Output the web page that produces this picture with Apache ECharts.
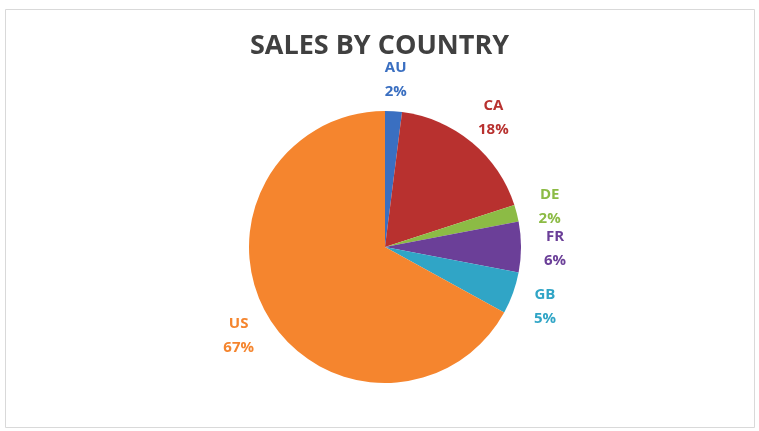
<!DOCTYPE html>
<html>
<head>
<meta charset="utf-8">
<script src="https://cdn.jsdelivr.net/npm/echarts@6/dist/echarts.min.js"></script>
<style>html,body{margin:0;padding:0;background:#fff}#c{width:759px;height:431px}</style>
</head>
<body>
<div id="c"></div>
<script>
const categories = ['AU', 'CA', 'DE', 'FR', 'GB', 'US'];
const values = [2, 18, 2, 6, 5, 67];
const colors = ['#3a6fc1', '#b8312f', '#8cbb45', '#6b3f98', '#30a5c6', '#f5852e'];
const titleText = 'SALES BY COUNTRY';

const CX = 385, CY = 247, R = 136, LABEL_R = 170;
const total = values.reduce((a, b) => a + b, 0);
const mids = [];
let acc = 0;
values.forEach(v => { mids.push((acc + v / 2) / total * 2 * Math.PI); acc += v; });

const chart = echarts.init(document.getElementById('c'));
chart.setOption({
  animation: false,
  backgroundColor: '#fff',
  title: {
    text: titleText, left: 'center', top: 28,
    textStyle: { fontFamily: 'Open Sans', fontWeight: 'bold', fontSize: 27, color: '#404040' }
  },
  graphic: [{
    type: 'rect', shape: { x: 5.5, y: 9.5, width: 749, height: 418 },
    style: { fill: 'none', stroke: '#d9d9d9', lineWidth: 1 }, silent: true
  }],
  series: [{
    type: 'pie',
    center: [CX, CY],
    radius: [0, R],
    startAngle: 90,
    clockwise: true,
    avoidLabelOverlap: false,
    data: categories.map((c, i) => ({
      name: c, value: values[i],
      itemStyle: { color: colors[i] },
      label: { color: colors[i] }
    })),
    label: {
      show: true, position: 'outside',
      formatter: p => p.name + '\n' + Math.round(p.percent) + '%',
      fontFamily: 'Open Sans', fontWeight: 'bold', fontSize: 15, lineHeight: 24,
      align: 'center'
    },
    labelLine: { show: false },
    labelLayout: function (p) {
      const a = mids[p.dataIndex];
      return {
        x: CX + LABEL_R * Math.sin(a),
        y: CY - LABEL_R * Math.cos(a) + 2,
        align: 'center', verticalAlign: 'middle'
      };
    }
  }]
});
</script>
</body>
</html>
